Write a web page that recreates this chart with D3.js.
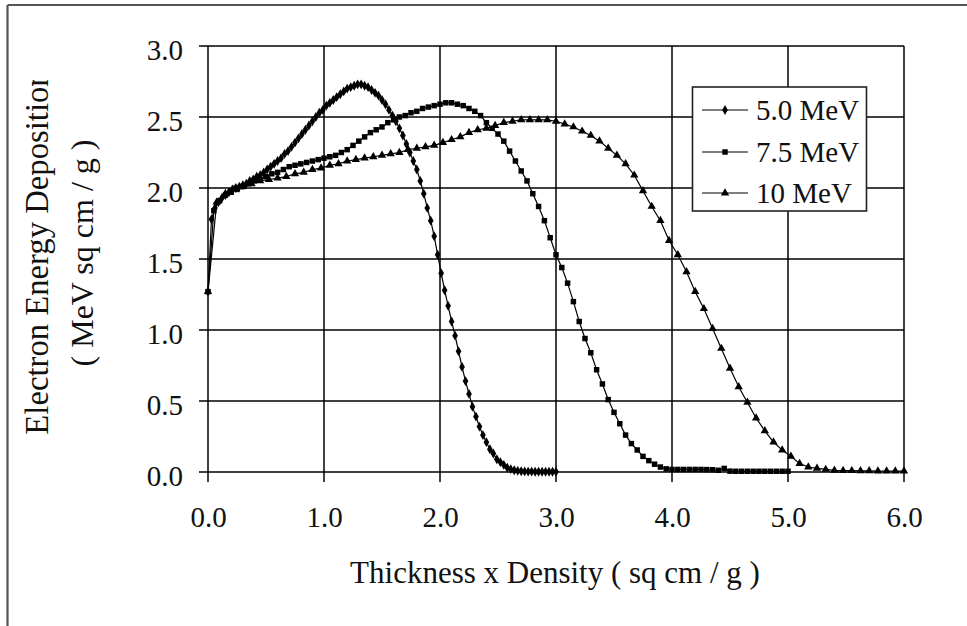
<!DOCTYPE html>
<html>
<head>
<meta charset="utf-8">
<script src="https://cdn.jsdelivr.net/npm/d3@7"></script>
<style>
  html, body { margin: 0; padding: 0; background: #fff; }
  svg { display: block; }
  text { font-family: "Liberation Serif", "Times New Roman", serif; fill: #111; }
</style>
</head>
<body>
<script>
// ---- data ----
const xTicks = [0.0, 1.0, 2.0, 3.0, 4.0, 5.0, 6.0];
const yTicks = [0.0, 0.5, 1.0, 1.5, 2.0, 2.5, 3.0];
const seriesNames = ["5.0 MeV", "7.5 MeV", "10 MeV"];

const mev5 = [
 [0.00,1.27],[0.03,1.78],[0.06,1.86],[0.09,1.90],[0.12,1.93],[0.15,1.95],[0.18,1.97],[0.21,1.99],[0.24,2.00],[0.27,2.01],
 [0.30,2.02],[0.33,2.03],[0.36,2.05],[0.39,2.06],[0.42,2.08],[0.45,2.09],[0.48,2.11],[0.51,2.13],[0.54,2.15],[0.57,2.17],
 [0.60,2.19],[0.63,2.21],[0.66,2.24],[0.69,2.26],[0.72,2.29],[0.75,2.32],[0.78,2.35],[0.81,2.38],[0.84,2.41],[0.87,2.44],
 [0.90,2.47],[0.93,2.50],[0.96,2.53],[0.99,2.55],[1.02,2.58],[1.05,2.60],[1.08,2.62],[1.11,2.64],[1.14,2.66],[1.17,2.68],
 [1.20,2.70],[1.23,2.71],[1.26,2.72],[1.29,2.73],[1.32,2.73],[1.35,2.72],[1.38,2.71],[1.41,2.69],[1.44,2.67],[1.47,2.65],
 [1.50,2.62],[1.53,2.59],[1.56,2.55],[1.59,2.51],[1.62,2.47],[1.65,2.42],[1.68,2.37],[1.71,2.31],[1.74,2.25],[1.77,2.19],
 [1.80,2.13],[1.83,2.05],[1.86,1.96],[1.89,1.86],[1.92,1.77],[1.95,1.66],[1.98,1.53],[2.01,1.40],[2.04,1.28],[2.07,1.17],
 [2.10,1.06],[2.13,0.96],[2.16,0.85],[2.19,0.74],[2.22,0.64],[2.25,0.55],[2.28,0.46],[2.31,0.39],[2.34,0.32],[2.37,0.26],
 [2.40,0.21],[2.43,0.16],[2.46,0.13],[2.49,0.09],[2.52,0.07],[2.55,0.05],[2.58,0.03],[2.61,0.02],[2.64,0.012],[2.67,0.008],
 [2.70,0.005],[2.73,0.004],[2.76,0.003],[2.79,0.003],[2.82,0.002],[2.85,0.002],[2.88,0.002],[2.91,0.002],[2.94,0.002],[2.97,0.002],
 [3.00,0.002]
];

const mev75 = [
 [0.00,1.27],[0.05,1.84],[0.10,1.91],[0.15,1.95],[0.20,1.97],[0.25,1.99],[0.30,2.01],[0.35,2.03],[0.40,2.05],[0.45,2.06],
 [0.50,2.08],[0.55,2.10],[0.60,2.11],[0.65,2.13],[0.70,2.15],[0.75,2.16],[0.80,2.17],[0.85,2.18],[0.90,2.19],[0.95,2.20],
 [1.00,2.21],[1.05,2.22],[1.10,2.23],[1.15,2.25],[1.20,2.27],[1.25,2.30],[1.30,2.33],[1.35,2.36],[1.40,2.39],[1.45,2.41],
 [1.50,2.43],[1.55,2.46],[1.60,2.48],[1.65,2.50],[1.70,2.51],[1.75,2.53],[1.80,2.54],[1.85,2.56],[1.90,2.57],[1.95,2.58],
 [2.00,2.59],[2.05,2.60],[2.10,2.60],[2.15,2.59],[2.20,2.58],[2.25,2.56],[2.30,2.54],[2.35,2.51],[2.40,2.46],[2.45,2.42],
 [2.50,2.38],[2.55,2.33],[2.60,2.26],[2.65,2.19],[2.70,2.12],[2.75,2.05],[2.80,1.96],[2.85,1.87],[2.90,1.77],[2.95,1.65],
 [3.00,1.53],[3.05,1.44],[3.10,1.33],[3.15,1.20],[3.20,1.06],[3.25,0.94],[3.30,0.84],[3.35,0.72],[3.40,0.62],[3.45,0.51],
 [3.50,0.42],[3.55,0.34],[3.60,0.26],[3.65,0.20],[3.70,0.155],[3.75,0.11],[3.80,0.08],[3.85,0.055],[3.90,0.035],[3.95,0.022],
 [4.00,0.018],[4.05,0.018],[4.10,0.018],[4.15,0.018],[4.20,0.018],[4.25,0.018],[4.30,0.017],[4.35,0.016],[4.40,0.012],[4.45,0.025],
 [4.50,0.006],[4.55,0.005],[4.60,0.005],[4.65,0.005],[4.70,0.005],[4.75,0.005],[4.80,0.005],[4.85,0.005],[4.90,0.005],[4.95,0.005],
 [5.00,0.005]
];

const mev10 = [
 [0.000,1.27],[0.075,1.90],[0.150,1.96],[0.225,1.99],[0.300,2.01],[0.375,2.03],[0.450,2.05],[0.525,2.06],[0.600,2.07],[0.675,2.08],
 [0.750,2.10],[0.825,2.11],[0.900,2.13],[0.975,2.14],[1.050,2.16],[1.125,2.17],[1.200,2.19],[1.275,2.20],[1.350,2.21],[1.425,2.22],
 [1.500,2.23],[1.575,2.24],[1.650,2.25],[1.725,2.27],[1.800,2.28],[1.875,2.29],[1.950,2.30],[2.025,2.32],[2.100,2.34],[2.175,2.36],
 [2.250,2.39],[2.325,2.41],[2.400,2.42],[2.475,2.44],[2.550,2.46],[2.625,2.47],[2.700,2.48],[2.775,2.48],[2.850,2.48],[2.925,2.48],
 [3.000,2.47],[3.075,2.45],[3.150,2.43],[3.225,2.40],[3.300,2.37],[3.375,2.33],[3.450,2.28],[3.525,2.23],[3.600,2.17],[3.675,2.09],
 [3.750,1.98],[3.825,1.87],[3.900,1.77],[3.975,1.63],[4.050,1.53],[4.125,1.41],[4.200,1.27],[4.275,1.15],[4.350,1.01],[4.425,0.87],
 [4.500,0.73],[4.575,0.60],[4.650,0.49],[4.725,0.38],[4.800,0.29],[4.875,0.21],[4.950,0.155],[5.025,0.11],[5.100,0.06],[5.175,0.035],
 [5.250,0.026],[5.325,0.018],[5.400,0.012],[5.475,0.010],[5.550,0.009],[5.625,0.008],[5.700,0.008],[5.775,0.007],[5.850,0.007],[5.925,0.007],
 [6.000,0.007]
];

const seriesData = [mev5, mev75, mev10];
const seriesSymbols = [d3.symbolDiamond, d3.symbolSquare, d3.symbolTriangle];
const symbolSizes = [28, 30, 30];

// ---- drawing ----
const W = 967, H = 626;
const svg = d3.select("body").append("svg").attr("width", W).attr("height", H);

// outer frame (only top and left edges visible)
svg.append("line").attr("x1", 7.5).attr("x2", W).attr("y1", 5).attr("y2", 5)
  .attr("stroke", "#555").attr("stroke-width", 2.2);
svg.append("line").attr("x1", 7.5).attr("x2", 7.5).attr("y1", 5).attr("y2", H)
  .attr("stroke", "#555").attr("stroke-width", 2.2);

const x = d3.scaleLinear().domain([0, 6]).range([208, 904]);
const y = d3.scaleLinear().domain([0, 3]).range([472, 46]);

const grid = svg.append("g");
grid.selectAll("line.h").data(yTicks).join("line")
  .attr("x1", x(0) - 9).attr("x2", x(6))
  .attr("y1", d => y(d)).attr("y2", d => y(d))
  .attr("stroke", "#000").attr("stroke-width", 1.5);
grid.selectAll("line.v").data(xTicks).join("line")
  .attr("x1", d => x(d)).attr("x2", d => x(d))
  .attr("y1", y(3)).attr("y2", y(0) + 10)
  .attr("stroke", "#000").attr("stroke-width", 1.5);

const yAxis = d3.axisLeft(y).tickValues(yTicks).tickFormat(d3.format(".1f")).tickSize(0).tickPadding(0);
const gy = svg.append("g").attr("transform", `translate(183,0)`).call(yAxis);
gy.select(".domain").remove();
gy.selectAll("text").attr("font-size", 29).attr("dy", "0.45em")
  .attr("font-family", "Liberation Serif").attr("fill", "#111");

const xAxis = d3.axisBottom(x).tickValues(xTicks).tickFormat(d3.format(".1f")).tickSize(0).tickPadding(0);
const gx = svg.append("g").attr("transform", `translate(0,${y(0) + 55})`).call(xAxis);
gx.select(".domain").remove();
gx.selectAll("text").attr("font-size", 29).attr("dy", 0)
  .attr("font-family", "Liberation Serif").attr("fill", "#111");

// axis titles
svg.append("text").attr("x", 555).attr("y", 583).attr("text-anchor", "middle")
  .attr("font-size", 31).text("Thickness x Density ( sq cm / g )");

svg.append("clipPath").attr("id", "ytclip").append("rect")
  .attr("x", 0).attr("y", 80).attr("width", 130).attr("height", 560);
const yt = svg.append("g").attr("clip-path", "url(#ytclip)");
yt.append("text").attr("transform", "translate(48,252.5) rotate(-90)")
  .attr("text-anchor", "middle").attr("font-size", 32.7).text("Electron Energy  Deposition");
yt.append("text").attr("transform", "translate(93,253) rotate(-90)")
  .attr("text-anchor", "middle").attr("font-size", 32).text("( MeV sq cm / g )");

// series
const line = d3.line().x(d => x(d[0])).y(d => y(d[1]));
seriesData.forEach((data, i) => {
  const g = svg.append("g");
  g.append("path").datum(data).attr("d", line)
    .attr("fill", "none").attr("stroke", "#000").attr("stroke-width", 1.2);
  g.selectAll("path.m").data(data).join("path")
    .attr("class", "m")
    .attr("transform", d => `translate(${x(d[0])},${y(d[1])})`)
    .attr("d", d3.symbol().type(seriesSymbols[i]).size(symbolSizes[i]))
    .attr("fill", "#000");
});

// legend
const lg = svg.append("g");
lg.append("rect").attr("x", 692.5).attr("y", 87).attr("width", 174).attr("height", 124)
  .attr("fill", "#fff").attr("stroke", "#222").attr("stroke-width", 1.6);
const rowY = [110, 152, 193];
seriesNames.forEach((name, i) => {
  lg.append("line").attr("x1", 702).attr("x2", 748).attr("y1", rowY[i]).attr("y2", rowY[i])
    .attr("stroke", "#000").attr("stroke-width", 1.2);
  lg.append("path").attr("transform", `translate(725,${rowY[i]})`)
    .attr("d", d3.symbol().type(seriesSymbols[i]).size(symbolSizes[i])).attr("fill", "#000");
  lg.append("text").attr("x", 756).attr("y", rowY[i] + 10).attr("font-size", 29).text(name);
});
</script>
</body>
</html>
